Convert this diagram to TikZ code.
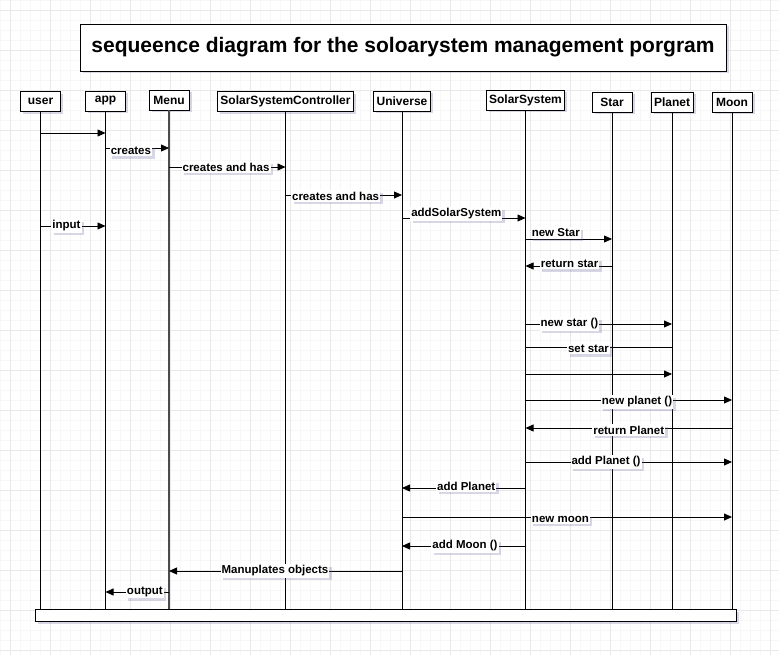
\documentclass[tikz,border=0pt]{standalone}
\usepackage{fontspec}
\setmainfont{Liberation Sans}
\usetikzlibrary{arrows.meta,shadows}

\begin{document}
\begin{tikzpicture}[x=1pt, y=-1pt,
	shdw/.style={drop shadow={shadow xshift=2.5pt, shadow yshift=-2.5pt, fill=blue!25!gray, opacity=0.25}},
	head/.style={draw, line width=0.9pt, fill=white, minimum width=40pt, minimum height=20pt, inner xsep=3pt, inner ysep=2pt, font=\fontsize{12}{14}\selectfont\bfseries, shdw},
	life/.style={line width=0.8pt},
	msg/.style={line width=0.8pt, -{Triangle[length=8pt,width=7pt]}},
	line/.style={line width=0.8pt},
	lbl/.style={fill=white, inner xsep=1pt, inner ysep=1.5pt, font=\fontsize{11.5}{13}\selectfont\bfseries, shdw}]
	\useasboundingbox (0,0) rectangle (779,655);
	\fill[white] (0,0) rectangle (779,655);
	% grid
	\foreach \x in {0,10,...,770} \draw[gray!6] (\x,0) -- (\x,655);
	\foreach \y in {0,10,...,650} \draw[gray!6] (0,\y) -- (779,\y);
	\foreach \x in {10,50,...,770} \draw[gray!18] (\x,0) -- (\x,655);
	\foreach \y in {10,50,...,650} \draw[gray!18] (0,\y) -- (779,\y);

	\node[draw, line width=0.9pt, fill=white, minimum width=646pt, minimum height=47pt, font=\fontsize{21}{25}\selectfont\bfseries, shdw] (T) at (403,47.5) {sequeence diagram for the soloarystem management porgram};

	\node[head] (U) at (40.5,101.5) {user};
	\node[head] (App) at (105.5,101) {app};
	\node[head] (Menu) at (169,100) {Menu};
	\node[head] (SSC) at (285.5,101.5) {SolarSystemController};
	\node[head] (Uni) at (402,101) {Universe};
	\node[head] (SS) at (525.5,100) {SolarSystem};
	\node[head] (Star) at (612,102) {Star};
	\node[head] (Pl) at (672,102) {Planet};
	\node[head] (Moon) at (732,102) {Moon};

	\node[draw, line width=0.9pt, fill=white, minimum width=701pt, minimum height=12pt, inner sep=0pt, shdw] (Bar) at (385.5,615) {};

	\foreach \n in {U,App,SSC,Uni,SS,Star,Pl,Moon}
		\draw[life] (\n.south) -- (\n |- Bar.north);
	\draw[life, gray!60!black, line width=1.4pt] (Menu.south) -- (Menu |- Bar.north);

	% messages
	\draw[msg] (U |- 0,133) -- (App |- 0,133);
	\draw[msg] (App |- 0,148) -- (Menu |- 0,148) node[lbl, pos=0.4, yshift=-3pt] {creates};
	\draw[msg] (Menu |- 0,167) -- (SSC |- 0,167) node[lbl, pos=0.49] {creates and has};
	\draw[msg] (SSC |- 0,195) -- (Uni |- 0,195) node[lbl, pos=0.43, yshift=-1pt] {creates and has};
	\draw[msg] (Uni |- 0,218) -- (SS |- 0,218) node[lbl, pos=0.44, yshift=4pt] {addSolarSystem};
	\draw[msg] (U |- 0,226) -- (App |- 0,226) node[lbl, pos=0.4] {input};
	\draw[msg] (SS |- 0,239) -- (Star |- 0,239) node[lbl, pos=0.35, yshift=6pt] {new Star};
	\draw[msg] (Star |- 0,266) -- (SS |- 0,266) node[lbl, pos=0.49, yshift=2pt] {return star};
	\draw[msg] (SS |- 0,324) -- (Pl |- 0,324) node[lbl, pos=0.3] {new star ()};
	\draw[line] (Pl |- 0,347) -- (SS |- 0,347) node[lbl, pos=0.57, yshift=-2pt] {set star};
	\draw[msg] (SS |- 0,374) -- (Pl |- 0,374);
	\draw[msg] (SS |- 0,400) -- (Moon |- 0,400) node[lbl, pos=0.54, yshift=-2pt] {new planet ()};
	\draw[msg] (Moon |- 0,428) -- (SS |- 0,428) node[lbl, pos=0.5, yshift=-2pt] {return Planet};
	\draw[msg] (SS |- 0,462) -- (Moon |- 0,462) node[lbl, pos=0.39] {add Planet ()};
	\draw[msg] (SS |- 0,488) -- (Uni |- 0,488) node[lbl, pos=0.48, yshift=2pt] {add Planet};
	\draw[msg] (Uni |- 0,517) -- (Moon |- 0,517) node[lbl, pos=0.48, yshift=-2pt] {new moon};
	\draw[msg] (SS |- 0,546) -- (Uni |- 0,546) node[lbl, pos=0.49] {add Moon ()};
	\draw[msg] (Uni |- 0,571) -- (Menu |- 0,571) node[lbl, pos=0.545] {Manuplates objects};
	\draw[msg] (Menu |- 0,592) -- (App |- 0,592) node[lbl, pos=0.38] {output};
\end{tikzpicture}
\end{document}
